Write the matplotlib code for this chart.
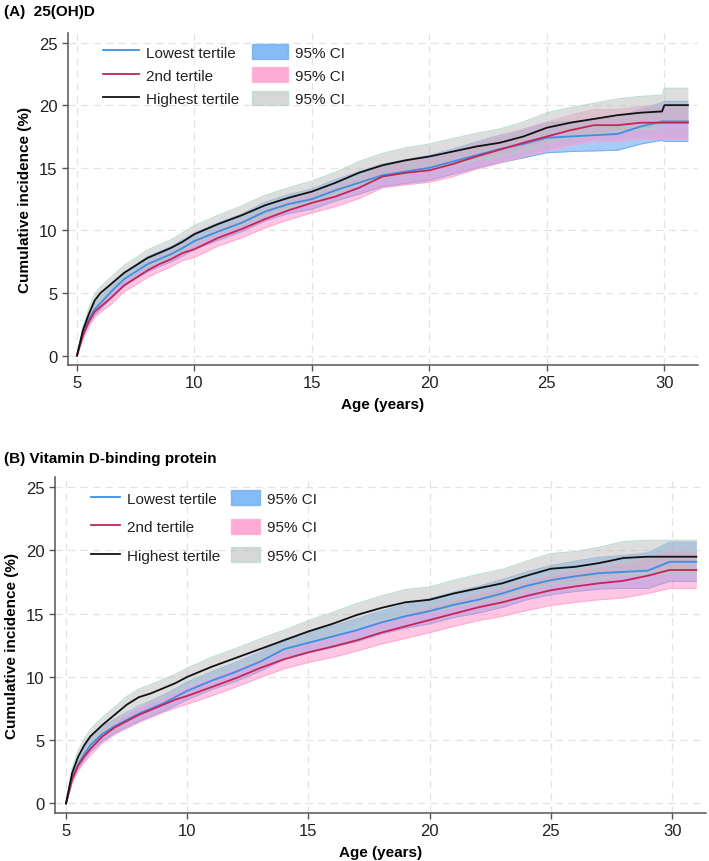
import numpy as np
import matplotlib
matplotlib.use("Agg")
import matplotlib.pyplot as plt
from matplotlib.lines import Line2D
from matplotlib.patches import Patch

plt.rcParams['font.family'] = ['Liberation Sans', 'DejaVu Sans']

ages = [5.0, 5.25, 5.5, 5.75, 6.0, 6.5, 7.0, 7.5, 8.0, 8.5, 9.0, 9.5,
        10, 11, 12, 13, 14, 15, 16, 17, 18, 19, 20, 21, 22, 23, 24, 25,
        26, 27, 28, 29, 29.9, 30, 31]

series_names = ["Lowest tertile", "2nd tertile", "Highest tertile"]

# panel A: 25(OH)D, cumulative incidence (%)
a_low = [0, 1.8, 2.9, 3.7, 4.2, 5.2, 6.1, 6.7, 7.3, 7.7, 8.1, 8.6,
         9.15, 9.9, 10.6, 11.5, 12.1, 12.5, 13.2, 13.8, 14.4, 14.7, 15.0, 15.5,
         16.0, 16.5, 16.9, 17.4, 17.5, 17.6, 17.7, 18.3, 18.7, 18.7, 18.7]
a_mid = [0, 1.6, 2.7, 3.5, 3.9, 4.7, 5.6, 6.2, 6.8, 7.3, 7.7, 8.2,
         8.5, 9.4, 10.1, 10.9, 11.6, 12.2, 12.7, 13.4, 14.3, 14.6, 14.8, 15.3,
         15.9, 16.45, 17.0, 17.5, 18.0, 18.4, 18.4, 18.6, 18.6, 18.6, 18.6]
a_high = [0, 2.0, 3.3, 4.4, 5.0, 5.8, 6.6, 7.2, 7.8, 8.2, 8.6, 9.1,
          9.7, 10.5, 11.2, 12.0, 12.6, 13.1, 13.8, 14.6, 15.2, 15.6, 15.9, 16.3,
          16.7, 17.0, 17.5, 18.2, 18.6, 18.9, 19.2, 19.4, 19.5, 20.0, 20.0]
# half widths of the 95% CI
a_low_ci = [0, 0.3, 0.4, 0.45, 0.5, 0.5, 0.55, 0.55, 0.6, 0.6, 0.6, 0.65,
            0.65, 0.7, 0.7, 0.75, 0.75, 0.8, 0.85, 0.9, 0.9, 0.95, 1.0, 1.0,
            1.05, 1.1, 1.1, 1.2, 1.2, 1.25, 1.3, 1.4, 1.5, 1.6, 1.6]
a_mid_ci = [0, 0.3, 0.4, 0.45, 0.45, 0.5, 0.5, 0.55, 0.55, 0.6, 0.6, 0.6,
            0.65, 0.65, 0.7, 0.7, 0.75, 0.8, 0.8, 0.85, 0.9, 0.95, 0.95, 1.0,
            1.0, 1.05, 1.1, 1.15, 1.2, 1.25, 1.25, 1.3, 1.3, 1.3, 1.3]
a_high_ci = [0, 0.3, 0.45, 0.5, 0.5, 0.55, 0.6, 0.6, 0.65, 0.65, 0.65, 0.7,
             0.7, 0.7, 0.75, 0.8, 0.8, 0.85, 0.85, 0.9, 0.95, 1.0, 1.0, 1.05,
             1.05, 1.1, 1.15, 1.2, 1.2, 1.25, 1.3, 1.3, 1.3, 1.35, 1.35]

# panel B: vitamin D-binding protein
b_low = [0, 2.0, 3.1, 3.9, 4.6, 5.5, 6.1, 6.6, 7.1, 7.5, 7.9, 8.4,
         8.9, 9.7, 10.4, 11.2, 12.2, 12.7, 13.2, 13.7, 14.3, 14.8, 15.2, 15.7,
         16.1, 16.6, 17.2, 17.65, 17.95, 18.2, 18.3, 18.4, 19.1, 19.1, 19.1]
b_mid = [0, 1.9, 3.0, 3.7, 4.3, 5.3, 6.0, 6.5, 7.0, 7.4, 7.8, 8.2,
         8.5, 9.2, 9.9, 10.7, 11.4, 11.95, 12.4, 12.9, 13.5, 14.0, 14.5, 15.0,
         15.5, 15.9, 16.4, 16.85, 17.15, 17.4, 17.6, 18.0, 18.45, 18.45, 18.45]
b_high = [0, 2.4, 3.7, 4.6, 5.3, 6.2, 7.0, 7.8, 8.4, 8.7, 9.1, 9.5,
          10.0, 10.8, 11.5, 12.2, 12.9, 13.6, 14.2, 14.9, 15.45, 15.9, 16.1, 16.6,
          17.0, 17.4, 18.0, 18.55, 18.7, 19.0, 19.4, 19.5, 19.5, 19.5, 19.5]
b_low_ci = [0, 0.3, 0.4, 0.45, 0.5, 0.55, 0.55, 0.6, 0.6, 0.6, 0.65, 0.65,
            0.7, 0.7, 0.75, 0.75, 0.8, 0.8, 0.85, 0.9, 0.9, 0.95, 1.0, 1.0,
            1.05, 1.1, 1.1, 1.15, 1.2, 1.25, 1.3, 1.4, 1.55, 1.55, 1.55]
b_mid_ci = [0, 0.3, 0.4, 0.45, 0.5, 0.5, 0.55, 0.55, 0.6, 0.6, 0.6, 0.65,
            0.65, 0.7, 0.7, 0.75, 0.75, 0.8, 0.85, 0.85, 0.9, 0.95, 1.0, 1.0,
            1.05, 1.1, 1.15, 1.2, 1.25, 1.3, 1.35, 1.4, 1.45, 1.45, 1.45]
b_high_ci = [0, 0.35, 0.45, 0.5, 0.55, 0.6, 0.6, 0.65, 0.65, 0.7, 0.7, 0.7,
             0.7, 0.75, 0.75, 0.8, 0.8, 0.85, 0.9, 0.9, 0.95, 1.0, 1.0, 1.05,
             1.1, 1.1, 1.15, 1.2, 1.2, 1.25, 1.3, 1.3, 1.3, 1.3, 1.3]

panel_titles = ["(A)  25(OH)D", "(B) Vitamin D-binding protein"]

line_colors = ["#3d8fe3", "#c42556", "#111111"]
fill_colors = ["#5ea4f2", "#ff8fc8", "#bdbdbd"]
fill_alphas = [0.55, 0.5, 0.5]
edge_colors = ["#6aaaf0", "#ffa6d2", "#a8d6c4"]


def draw_panel(ax, est, ci, legend_anchor, row_gap, hlen, col_gap):
    x = np.array(ages)
    # bands first, lines on top
    for k in range(3):
        e = np.array(est[k])
        h = np.array(ci[k])
        ax.fill_between(x, e - h, e + h, color=fill_colors[k],
                        alpha=fill_alphas[k], lw=0, zorder=1 + k)
        ax.plot(x, e + h, color=edge_colors[k], lw=0.8, alpha=0.8, zorder=1 + k)
        ax.plot(x, e - h, color=edge_colors[k], lw=0.8, alpha=0.8, zorder=1 + k)
    for k in range(3):
        ax.plot(x, est[k], color=line_colors[k], lw=1.3, zorder=10)

    ax.set_ylim(-0.75, 25.8)
    ax.set_yticks([0, 5, 10, 15, 20, 25])
    ax.set_xticks([5, 10, 15, 20, 25, 30])
    ax.grid(True, color="#e3e3e3", ls=(0, (6, 4)), lw=0.9)
    ax.set_axisbelow(True)
    for s in ["top", "right"]:
        ax.spines[s].set_visible(False)
    for s in ["left", "bottom"]:
        ax.spines[s].set_color("#555555")
        ax.spines[s].set_linewidth(1.1)
    ax.tick_params(colors="#555555", labelcolor="#222222", labelsize=12,
                   length=4, width=1.0)
    ax.set_xlabel("Age (years)", fontsize=11, fontweight="bold", labelpad=5)
    ax.set_ylabel("Cumulative incidence (%)", fontsize=11, fontweight="bold",
                  labelpad=5)

    handles = [Line2D([], [], color=line_colors[k], lw=1.3) for k in range(3)]
    handles += [Patch(facecolor=fill_colors[k], alpha=0.75 if k < 2 else 0.6,
                      edgecolor=edge_colors[k], lw=1.0) for k in range(3)]
    labels = series_names + ["95% CI"] * 3
    leg = ax.legend(handles, labels, ncol=2, loc="upper left",
                    bbox_to_anchor=legend_anchor, frameon=False, fontsize=11,
                    borderpad=0, borderaxespad=0, handlelength=hlen,
                    handleheight=1.1, handletextpad=0.45,
                    columnspacing=col_gap, labelspacing=row_gap)
    for t in leg.get_texts():
        t.set_color("#222222")


fig = plt.figure(figsize=(7.09, 8.62), dpi=100)
ax_a = fig.add_axes([0.0959, 0.5754, 0.8886, 0.3857])
ax_b = fig.add_axes([0.0776, 0.0557, 0.9182, 0.3898])

draw_panel(ax_a, [a_low, a_mid, a_high], [a_low_ci, a_mid_ci, a_high_ci],
           (0.055, 0.965), 0.5, 2.4, 0.8)
ax_a.set_xlim(4.617, 31.43)

draw_panel(ax_b, [b_low, b_mid, b_high], [b_low_ci, b_mid_ci, b_high_ci],
           (0.055, 0.96), 0.85, 1.9, 0.7)
ax_b.set_xlim(4.546, 31.4)

fig.text(0.005, 0.994, panel_titles[0], fontsize=11, fontweight="bold",
         va="top", ha="left")
fig.text(0.005, 0.476, panel_titles[1], fontsize=11, fontweight="bold",
         va="top", ha="left")

fig.savefig("out.png", dpi=100)
